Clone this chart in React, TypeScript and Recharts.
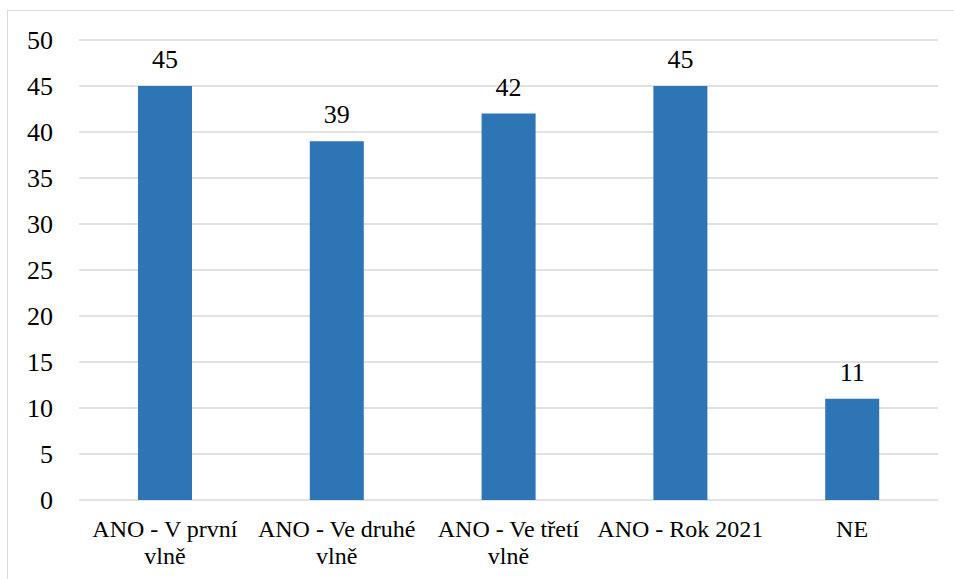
import React from "react";
import { BarChart, Bar, XAxis, YAxis, CartesianGrid, LabelList } from "recharts";

const categories = ["ANO - V první vlně", "ANO - Ve druhé vlně", "ANO - Ve třetí vlně", "ANO - Rok 2021", "NE"];
const categoryLines = [["ANO - V první", "vlně"], ["ANO - Ve druhé", "vlně"], ["ANO - Ve třetí", "vlně"], ["ANO - Rok 2021"], ["NE"]];
const values = [45, 39, 42, 45, 11];
const yTicks = [0, 5, 10, 15, 20, 25, 30, 35, 40, 45, 50];

const data = categories.map((c, i) => ({ name: c, value: values[i], idx: i }));

const textStyle: React.CSSProperties = { fontFamily: '"Liberation Serif", Tinos, "Times New Roman", serif' };

const YTick = (props: any) => {
  const { y, payload } = props;
  return (
    <text x={53} y={y} dy={9} textAnchor="end" style={textStyle} fontSize={26} fill="#000">
      {payload.value}
    </text>
  );
};

const XTick = (props: any) => {
  const { x, payload, index } = props;
  const lines = categoryLines[index] || [String(payload.value)];
  return (
    <g>
      {lines.map((l: string, i: number) => (
        <text key={i} x={x} y={537 + i * 27} textAnchor="middle" style={textStyle} fontSize={24} fill="#000">
          {l}
        </text>
      ))}
    </g>
  );
};

const ValueLabel = (props: any) => {
  const { x, y, width, value } = props;
  return (
    <text x={x + width / 2} y={y - 18} textAnchor="middle" style={textStyle} fontSize={26} fill="#000">
      {value}
    </text>
  );
};

export default function App() {
  return (
    <div style={{ position: "fixed", left: 0, top: 0, width: 954, height: 579, background: "#fff", overflow: "hidden", ...textStyle }}>
      <div style={{ position: "absolute", left: 7, top: 10, width: 960, height: 600, border: "1.5px solid #d9d9d9", boxSizing: "border-box" }} />
      <div style={{ position: "absolute", left: 0, top: 0 }}>
        <BarChart width={954} height={579} data={data} margin={{ top: 40, right: 16, left: 0, bottom: 9 }} style={textStyle}>
          <CartesianGrid vertical={false} stroke="#d9d9d9" strokeWidth={1.5} />
          <XAxis dataKey="name" axisLine={false} tickLine={false} interval={0} height={70} tick={<XTick />} />
          <YAxis domain={[0, 50]} ticks={yTicks} axisLine={false} tickLine={false} width={79} tick={<YTick />} interval={0} />
          <Bar dataKey="value" fill="#2E75B6" barSize={54} isAnimationActive={false}>
            <LabelList dataKey="value" content={<ValueLabel />} />
          </Bar>
        </BarChart>
      </div>
    </div>
  );
}
